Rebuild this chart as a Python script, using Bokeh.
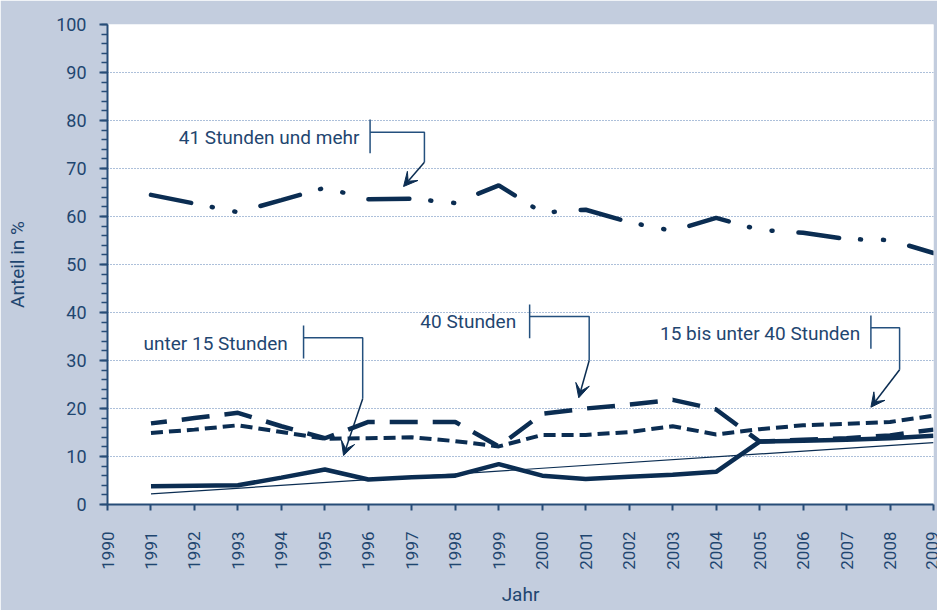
import numpy as np
from bokeh.plotting import figure
from bokeh.models import FixedTicker, Label, Arrow, VeeHead
from bokeh.embed import file_html
from bokeh.resources import INLINE

# ---- data ----
years = list(range(1991, 2010))
h41_plus = [64.5, 62.7, 60.9, 63.4, 66.0, 63.6, 63.7, 62.8, 66.5, 60.8,
            61.4, 58.8, 57.0, 59.7, 57.2, 56.6, 55.3, 55.1, 52.4]
h40 = [16.9, 18.0, 19.1, 16.3, 13.8, 17.2, 17.2, 17.2, 12.1, 18.9,
       20.0, 20.8, 21.8, 19.8, 13.1, 13.5, 13.8, 14.4, 15.6]
h15_40 = [14.9, 15.6, 16.5, 15.1, 13.7, 13.8, 14.0, 13.2, 12.1, 14.5,
          14.5, 15.1, 16.3, 14.6, 15.7, 16.5, 16.8, 17.2, 18.5]
h_under15 = [3.8, 3.9, 4.0, 5.6, 7.3, 5.2, 5.7, 6.0, 8.4, 6.0,
             5.3, 5.8, 6.2, 6.8, 13.1, 13.3, 13.5, 13.8, 14.3]
trend_years = [1991, 2009]
trend_vals = [2.2, 12.9]
x_ticks = list(range(1990, 2010))
y_ticks = list(range(0, 101, 10))
y_minor = list(range(0, 101, 2))

FONT = "Roboto"
NAVY = "#0b2d52"
TEXT = "#1f4670"
ANN = "#24507e"
BG = "#c3cdde"

p = figure(width=937, height=610, x_range=(1990, 2009), y_range=(0, 100),
           output_backend="svg", toolbar_location=None,
           min_border_left=107, min_border_right=4, min_border_top=24, min_border_bottom=106,
           background_fill_color="white", border_fill_color=BG, outline_line_color=None)

# axes
for ax in (p.xaxis, p.yaxis):
    ax.axis_line_color = "#274c77"
    ax.axis_line_width = 2
    ax.major_tick_line_color = "#274c77"
    ax.major_tick_line_width = 2
    ax.minor_tick_line_color = "#274c77"
    ax.minor_tick_line_width = 1.5
    ax.major_tick_in = 0
    ax.minor_tick_in = 0
    ax.major_label_text_font = FONT
    ax.major_label_text_color = TEXT
    ax.axis_label_text_font = FONT
    ax.axis_label_text_color = TEXT
    ax.axis_label_text_font_style = "normal"
    ax.axis_label_text_font_size = "19px"

p.yaxis.ticker = FixedTicker(ticks=y_ticks, minor_ticks=y_minor)
p.yaxis.major_tick_out = 8
p.yaxis.minor_tick_out = 6
p.yaxis.major_label_text_font_size = "18px"
p.yaxis.major_label_standoff = 13
p.yaxis.axis_label = "Anteil in %"
p.yaxis.axis_label_standoff = 24

p.xaxis.ticker = FixedTicker(ticks=x_ticks, minor_ticks=[])
p.xaxis.major_tick_out = 6
p.xaxis.minor_tick_out = 0
p.xaxis.major_label_orientation = np.pi / 2
p.xaxis.major_label_text_font_size = "17px"
p.xaxis.major_label_standoff = 21
p.xaxis.axis_label = "Jahr"
p.xaxis.axis_label_standoff = 10

p.xgrid.visible = False
p.ygrid.grid_line_color = "#5a80b5"
p.ygrid.grid_line_dash = "1 2"
p.ygrid.grid_line_width = 1

# series
p.line(trend_years, trend_vals, line_color=NAVY, line_width=1.2)
p.line(years, h_under15, line_color=NAVY, line_width=4.5)
p.line(years, h15_40, line_color=NAVY, line_width=4, line_dash="12 6")
p.line(years, h40, line_color=NAVY, line_width=4.5, line_dash="28 15", line_dash_offset=12)
p.line(years, h41_plus, line_color=NAVY, line_width=4.5, line_cap="round",
       line_dash="41 21 1 22 1 26")

# annotations: (text, text_x, text_baseline_y, align, bar_x, bar_y0, bar_y1, hy, bend_x, bend_y, tip_x, tip_y)
anns = [
    ("41 Stunden und mehr", 1991.64, 76.45, "left", 1996.04, 73.2, 80.2, 77.56, 1997.29, 71.3, 1996.81, 66.25),
    ("unter 15 Stunden", 1990.83, 33.55, "left", 1994.51, 30.4, 37.3, 34.73, 1995.87, 22.02, 1995.43, 10.2),
    ("40 Stunden", 1999.40, 38.1, "right", 1999.71, 34.65, 41.67, 39.17, 2001.08, 30.0, 2000.84, 22.23),
    ("15 bis unter 40 Stunden", 2002.71, 35.6, "left", 2007.56, 32.44, 39.38, 36.81, 2008.22, 28.06, 2007.56, 20.27),
]
for (t, tx, ty, al, bx, by0, by1, hy, kx, ky, ax_, ay_) in anns:
    p.add_layout(Label(x=tx, y=ty, text=t, text_align=al, text_baseline="alphabetic",
                       text_font=FONT, text_font_size="19px", text_color=TEXT))
    p.line([bx, bx], [by0, by1], line_color=ANN, line_width=1.5)
    p.line([bx, kx, kx], [hy, hy, ky], line_color=ANN, line_width=1.5)
    p.add_layout(Arrow(end=VeeHead(size=14, fill_color=NAVY, line_color=NAVY, line_width=1),
                       x_start=kx, y_start=ky, x_end=ax_, y_end=ay_,
                       line_color=NAVY, line_width=1.5))

open("out.html", "w").write(file_html(p, INLINE))
